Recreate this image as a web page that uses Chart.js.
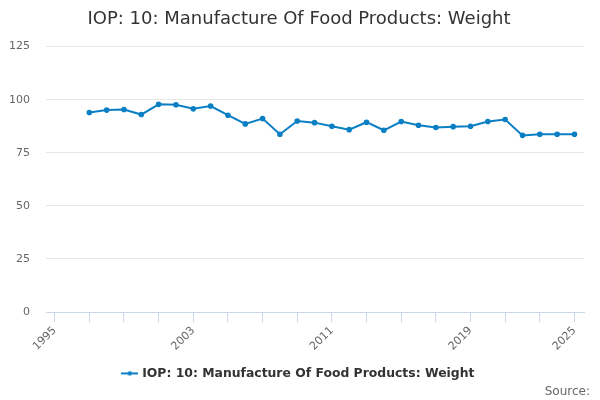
<!DOCTYPE html>
<html>
<head>
<meta charset="utf-8">
<script src="https://cdn.jsdelivr.net/npm/chart.js@4/dist/chart.umd.min.js"></script>
<style>
  body { margin: 0; background: #fff; }
  #wrap { width: 600px; height: 400px; }
</style>
</head>
<body>
<div id="wrap"><canvas id="iopChart" width="600" height="400"></canvas></div>
<script>
// values
const years = [1997, 1998, 1999, 2000, 2001, 2002, 2003, 2004, 2005, 2006,
               2007, 2008, 2009, 2010, 2011, 2012, 2013, 2014, 2015, 2016,
               2017, 2018, 2019, 2020, 2021, 2022, 2023, 2024, 2025];
const weights = [94.0, 95.1, 95.4, 93.0, 97.8, 97.6, 95.7, 97.0, 92.7, 88.6,
                 91.1, 83.7, 90.0, 89.2, 87.5, 85.9, 89.4, 85.6, 89.7, 88.0,
                 86.9, 87.3, 87.5, 89.7, 90.7, 83.2, 83.7, 83.7, 83.7];
// tick marks every two years, labels only on some of them
const tickYears = [1995, 1997, 1999, 2001, 2003, 2005, 2007, 2009,
                   2011, 2013, 2015, 2017, 2019, 2021, 2023, 2025];
const shownYears = [1995, 2003, 2011, 2019, 2025];

const seriesName = "IOP: 10: Manufacture Of Food Products: Weight";
const lineColor = "#0b7fc4";

// legend icon: short line with a dot in the middle
const legendIcon = document.createElement("canvas");
legendIcon.width = 17;
legendIcon.height = 6;
const ictx = legendIcon.getContext("2d");
ictx.strokeStyle = lineColor;
ictx.lineWidth = 2;
ictx.beginPath();
ictx.moveTo(0, 3);
ictx.lineTo(17, 3);
ictx.stroke();
ictx.fillStyle = lineColor;
ictx.beginPath();
ictx.arc(8.5, 3, 2.2, 0, Math.PI * 2);
ictx.fill();

new Chart(document.getElementById("iopChart"), {
    type: "line",
    data: {
        datasets: [{
            label: seriesName,
            data: years.map((y, i) => ({ x: y, y: weights[i] })),
            borderColor: lineColor,
            backgroundColor: lineColor,
            borderWidth: 2,
            pointRadius: 1.8,
            pointHoverRadius: 4,
            tension: 0
        }]
    },
    options: {
        responsive: false,
        animation: false,
        layout: { padding: { left: 8, right: 10, top: 4, bottom: 1 } },
        plugins: {
            title: {
                display: true,
                text: seriesName,
                color: "#333333",
                font: { family: "DejaVu Sans", size: 18, weight: "normal" },
                padding: { top: 5, bottom: 16 }
            },
            subtitle: {
                display: true,
                position: "bottom",
                align: "end",
                text: "Source:",
                color: "#666666",
                font: { family: "DejaVu Sans", size: 12 },
                padding: { top: -5, bottom: 0 }
            },
            legend: {
                position: "bottom",
                labels: {
                    color: "#333333",
                    font: { family: "DejaVu Sans", size: 12.4, weight: "bold" },
                    usePointStyle: true,
                    padding: 2,
                    generateLabels: chart => Chart.defaults.plugins.legend.labels.generateLabels(chart)
                        .map(l => Object.assign(l, { pointStyle: legendIcon }))
                }
            },
            tooltip: { enabled: true }
        },
        scales: {
            x: {
                type: "linear",
                min: 1994.5,
                max: 2025.55,
                afterBuildTicks: axis => {
                    axis.ticks = tickYears.map(v => ({ value: v }));
                },
                afterFit: axis => {
                    // let the rotated first label hang into the y-axis gutter
                    axis.paddingLeft = 0;
                    axis.height += 10;
                },
                border: { color: "#ccd6eb" },
                grid: {
                    drawOnChartArea: false,
                    drawTicks: true,
                    tickLength: 10,
                    color: "#ccd6eb"
                },
                ticks: {
                    autoSkip: false,
                    maxRotation: 45,
                    minRotation: 45,
                    padding: 2,
                    color: "#666666",
                    font: { family: "DejaVu Sans", size: 11 },
                    callback: v => shownYears.includes(v) ? String(v) : ""
                }
            },
            y: {
                min: 0,
                max: 125,
                afterFit: axis => {
                    axis.width = 38;
                },
                border: { display: false },
                grid: { color: "#e6e6e6", drawTicks: false },
                ticks: {
                    stepSize: 25,
                    padding: 16,
                    color: "#666666",
                    font: { family: "DejaVu Sans", size: 11 }
                }
            },
            // empty right gutter so the plot ends where the reference does
            gutter: {
                type: "linear",
                position: "right",
                display: true,
                afterFit: axis => {
                    axis.width = 6;
                },
                border: { display: false },
                grid: { display: false },
                ticks: { display: false }
            }
        }
    }
});
</script>
</body>
</html>
